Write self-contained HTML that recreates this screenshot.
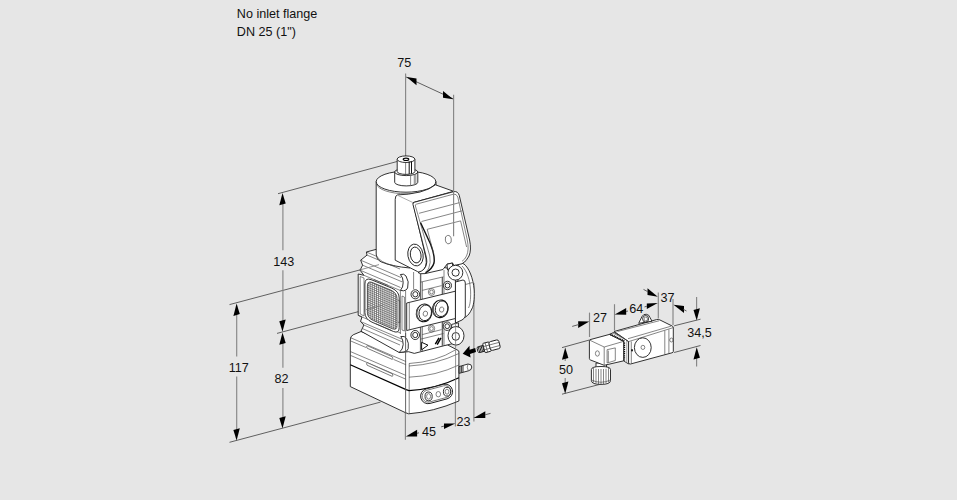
<!DOCTYPE html>
<html><head><meta charset="utf-8"><title>drawing</title>
<style>
html,body{margin:0;padding:0;background:#e6e6e6;}
body{width:957px;height:500px;overflow:hidden;}
svg{display:block;}
text{font-family:"Liberation Sans",sans-serif;font-size:12.6px;fill:#111;}
.d{stroke:#868686;stroke-width:1.15;fill:none;}
.di{stroke:#606060;stroke-width:1;fill:none;}
.d2{stroke:#777;stroke-width:0.8;fill:none;}
.d3{stroke:#555;stroke-width:0.9;fill:none;}
.a{fill:#000;stroke:none;}
.o{stroke:#1c1c1c;stroke-width:0.9;fill:#fff;stroke-linejoin:round;}
.t{stroke:#444;stroke-width:0.65;fill:none;stroke-linejoin:round;}
</style></head>
<body>
<svg width="957" height="500" viewBox="0 0 957 500">
<rect width="957" height="500" fill="#e6e6e6"/>
<g id="dims-back">
<line class="d" x1="405.6" y1="73.5" x2="405.6" y2="157"/>
<line class="di" x1="406" y1="77" x2="453.5" y2="99"/>
<polygon class="a" points="406.6,77.0 416.5,78.4 416.5,85.2"/>
<polygon class="a" points="453.2,99.2 443.0,90.9 443.0,97.7"/>
<line class="di" x1="278" y1="193.7" x2="397.5" y2="161.4"/>
<line class="di" x1="229.5" y1="304.6" x2="360" y2="269.9"/>
<line class="di" x1="277" y1="333.4" x2="366" y2="309.6"/>
<line class="di" x1="229.5" y1="442.3" x2="380.5" y2="402.1"/>
<line class="d" x1="282.9" y1="200" x2="282.9" y2="250.3"/>
<line class="d" x1="282.9" y1="270.3" x2="282.9" y2="325"/>
<line class="d" x1="282.9" y1="340" x2="282.9" y2="367.8"/>
<line class="d" x1="282.9" y1="387.9" x2="282.9" y2="420"/>
<polygon class="a" points="282.5,193.0 279.3,205.3 285.7,203.5"/>
<polygon class="a" points="282.5,331.8 279.3,321.3 285.7,319.5"/>
<polygon class="a" points="282.5,332.4 279.3,344.7 285.7,342.9"/>
<polygon class="a" points="282.5,428.6 279.3,418.1 285.7,416.3"/>
<line class="d" x1="236.7" y1="310" x2="236.7" y2="356.5"/>
<line class="d" x1="236.7" y1="376.6" x2="236.7" y2="433"/>
<polygon class="a" points="236.6,303.6 233.4,315.9 239.8,314.1"/>
<polygon class="a" points="236.6,440.6 233.4,430.1 239.8,428.3"/>
<line class="d" x1="405.4" y1="412" x2="405.4" y2="439.7"/>
<line class="d" x1="455.4" y1="402" x2="455.4" y2="426.6"/>
<line class="d" x1="473.9" y1="283" x2="473.9" y2="421.4"/>
<polygon class="a" points="405.8,436.6 417.1,429.7 417.1,436.5"/>
<line class="di" x1="417" y1="433.3" x2="419" y2="432.8"/>
<polygon class="a" points="455.3,423.4 444.0,423.5 444.0,429.1"/>
<line class="di" x1="441.2" y1="426.8" x2="444" y2="426.1"/>
<polygon class="a" points="473.5,418.0 485.3,411.2 485.3,418.0"/>
<line class="di" x1="485" y1="414.8" x2="490.5" y2="413.4"/>
</g>
<g id="body">
<path class="o" d="M458,262 L464,264 C469,268 473.2,278 474.2,290 C474.6,300 473.5,306 471.8,309 C470,313 468,315.5 465.5,317 L458,321 Z"/>
<path class="t" d="M462,266 C467,271 470,280 470.6,291 C470.8,300 470,305 468.5,308"/>
<path class="t" d="M465.5,284.5 L472.5,282.5"/>
<path class="o" d="M455.4,282 L463,280 Q465.3,280 465.3,283 L465.3,316 Q465.3,318 462,320 L455.4,323 Z"/>
<path class="o" d="M350.3,340 Q350.3,336 353.2,334.8 L361,331.5 L406,350 L447.2,344.7 L458,350.4 Q458.9,350.6 458.9,352 L458.9,401 Q433,412 408.6,413.8 L405.5,412.7 L350.3,386.6 Z"/>
<path class="t" d="M350.3,337.6 L406.1,361.6 M350.3,351.5 L406.1,375.5" />
<path class="t" d="M350.3,340.8 L366,347.5 M393.5,359.4 L406.1,364.8 M350.3,355.3 L406.1,379.3" stroke="#888"/>
<path class="t" d="M409.2,363.5 L409.2,413.8"/>
<path d="M350.3,364.8 L406.1,389.6 L409,390.6 Q436,389 458.9,377.8" stroke="#000" stroke-width="1.15" fill="none"/>
<path class="t" d="M409,363.5 Q436,362 455.4,349.9 M409,377.2 Q436,376 458.9,365 M409,366 Q436,364.5 458.9,353.5"/>
<path d="M367.1,345.6 L392.3,356.8 Q393.4,358.3 392.3,359.4 L367.1,348.2 Q366,346.6 367.1,345.6 Z M367.1,362.6 L392.3,373.8 Q393.4,375.3 392.3,376.4 L367.1,365.2 Q366,363.6 367.1,362.6 Z" fill="#fff" stroke="#444" stroke-width="0.7"/>
<g transform="rotate(-15 436.6 393.9)"><rect class="o" x="420.3" y="386.4" width="32.6" height="15" rx="7.5" stroke-width="1.2"/><rect class="t" x="421.9" y="387.9" width="29.4" height="12" rx="6"/></g>
<ellipse class="o" cx="428.6" cy="396.4" rx="3.6" ry="4.4"/><ellipse class="t" cx="428.6" cy="396.4" rx="2" ry="2.8" stroke="#000"/>
<ellipse class="t" cx="438.3" cy="394.2" rx="2.3" ry="2.7"/>
<ellipse class="o" cx="447" cy="391.7" rx="3.6" ry="4.4" stroke-width="1.5"/><ellipse class="t" cx="447" cy="391.7" rx="1.9" ry="2.5" fill="#aaa" stroke="#000"/>
<path class="o" d="M459,366.6 L468,364 Q471.8,364 471.8,367 Q471.8,370 468.5,370.8 L459,373.4 Z"/>
<path d="M460,366.4 L460,373 M461.6,366 L461.6,372.6 M463,365.6 L463,372.2" stroke="#222" stroke-width="0.9" fill="none"/>
<path class="t" d="M468,364.2 Q466.3,367 468.3,370.7"/>
<path class="o" d="M366.4,252 L376,249.4 L420,262 L455.4,270 L455.4,343 L447.2,344.9 L414.3,353.4 L408.5,351.7 L399.2,352.5 L361,331.2 L363.9,325 L360.5,321.5 L362,317 L358.2,315.3 L358.2,274 L363.9,275.3 L360.1,270.2 L362.6,265.2 L360.7,260.2 L367,255.1 Z"/>
<path class="t" d="M366.4,252 L377,256.5 M367,255.1 L400,269 M360.7,260.2 L401,277.5 M362.6,265.2 L402.5,282 M360.1,270.2 L400.5,287.5 M363.9,275.3 L400.4,290.5"/>
<path class="o" d="M400.4,274.5 Q404,273.2 406,276 Q409.5,281.5 407.6,288 Q406.6,290.6 403.5,290.8 L400.4,290.4 Q403.2,287.5 403.2,282.5 Q403.2,277.5 400.4,274.5 Z"/>
<path class="t" d="M358.2,315.3 L362,317 M362,317 L400.5,333 M360.5,321.5 L401.5,339 M363.9,325 L402.5,342 M362.3,328.5 L400,345 "/>
<path class="o" d="M400.8,336.5 Q404.6,335.6 406.6,338.5 Q409.2,343 408.2,348.6 Q407.4,351.6 404,351.9 L399.2,352.5 Q403,349.5 403.2,344.5 Q403.2,339.5 400.8,336.5 Z"/>
<path class="t" d="M360.2,276.5 L360.2,314 L364,316 L364,278 Z"/>
<path class="t" d="M400.4,290.5 L400.4,334 M405.6,291 L405.6,337"/>
<path class="t" d="M402,296 L402,330 L404.4,331 L404.4,297 Z"/>
<path class="o" d="M364.9,284 Q364.9,277.4 371,279.6 L392,288.2 Q399.2,291.5 399.2,298 L399.2,327.5 Q399.2,333.8 393.5,331.5 L372,322.2 Q364.9,319 364.9,312.5 Z" stroke-width="0.9" stroke="#222"/>
<clipPath id="mc"><path d="M367.4,286 Q367.4,280.6 372,282.4 L391,290.2 Q397,293 397,298.8 L397,325.5 Q397,330.6 392.5,328.8 L373.5,320.6 Q367.4,318 367.4,312.5 Z"/></clipPath>
<path d="M367.4,286 Q367.4,280.6 372,282.4 L391,290.2 Q397,293 397,298.8 L397,325.5 Q397,330.6 392.5,328.8 L373.5,320.6 Q367.4,318 367.4,312.5 Z" fill="#fff" stroke="none"/>
<path clip-path="url(#mc)" d="M366.00,276 L366.00,334 M368.10,276 L368.10,334 M370.20,276 L370.20,334 M372.30,276 L372.30,334 M374.40,276 L374.40,334 M376.50,276 L376.50,334 M378.60,276 L378.60,334 M380.70,276 L380.70,334 M382.80,276 L382.80,334 M384.90,276 L384.90,334 M387.00,276 L387.00,334 M389.10,276 L389.10,334 M391.20,276 L391.20,334 M393.30,276 L393.30,334 M395.40,276 L395.40,334 M397.50,276 L397.50,334 M364,250.00 L400,265.12 M364,252.10 L400,267.22 M364,254.20 L400,269.32 M364,256.30 L400,271.42 M364,258.40 L400,273.52 M364,260.50 L400,275.62 M364,262.60 L400,277.72 M364,264.70 L400,279.82 M364,266.80 L400,281.92 M364,268.90 L400,284.02 M364,271.00 L400,286.12 M364,273.10 L400,288.22 M364,275.20 L400,290.32 M364,277.30 L400,292.42 M364,279.40 L400,294.52 M364,281.50 L400,296.62 M364,283.60 L400,298.72 M364,285.70 L400,300.82 M364,287.80 L400,302.92 M364,289.90 L400,305.02 M364,292.00 L400,307.12 M364,294.10 L400,309.22 M364,296.20 L400,311.32 M364,298.30 L400,313.42 M364,300.40 L400,315.52 M364,302.50 L400,317.62 M364,304.60 L400,319.72 M364,306.70 L400,321.82 M364,308.80 L400,323.92 M364,310.90 L400,326.02 M364,313.00 L400,328.12 M364,315.10 L400,330.22 M364,317.20 L400,332.32 M364,319.30 L400,334.42 M364,321.40 L400,336.52 M364,323.50 L400,338.62 M364,325.60 L400,340.72 M364,327.70 L400,342.82 M364,329.80 L400,344.92 M364,331.90 L400,347.02 M364,334.00 L400,349.12 M364,336.10 L400,351.22 M364,338.20 L400,353.32" stroke="#5c5c5c" stroke-width="0.7" fill="none"/>
<path d="M367.4,286 Q367.4,280.6 372,282.4 L391,290.2 Q397,293 397,298.8 L397,325.5 Q397,330.6 392.5,328.8 L373.5,320.6 Q367.4,318 367.4,312.5 Z" fill="none" stroke="#333" stroke-width="0.8"/>
<path class="t" d="M374,279.6 L388,285.4 M376,323.8 L391,330.2 M397.8,300 L399.8,300.8 L399.8,322.8 L397.8,322" stroke="#555"/>
<path d="M366,309.6 L383,305.1" stroke="#777" stroke-width="0.8" fill="none"/>
<path class="t" d="M413.6,272 L413.6,289"/>
<path d="M420.6,271 L420.6,299.5 M442.4,277 L442.4,294.2" stroke="#666" stroke-width="1.4" fill="none"/>
<path class="t" d="M422.4,281.8 L422.4,299 M444,270 L444,293.8"/>
<path d="M420.6,327 L420.6,351.8 M442.4,321.8 L442.4,346.2" stroke="#666" stroke-width="1.4" fill="none"/>
<path class="t" d="M422.4,326.6 L422.4,351.4 M444,321.2 L444,345.8"/>
<path class="t" d="M420.4,282.2 L443.5,276.8 M422.2,290.4 L441.6,285.6"/>
<path class="t" d="M422.2,334.6 L441.6,329.6 M420.4,339.2 L443.5,333.5"/>
<path class="o" d="M406.7,303 L455.4,291.2 L455.4,318.5 L406.7,330.5 Z"/>
<path class="t" d="M409.3,302.5 L409.3,329.8"/>
<ellipse class="o" cx="415.3" cy="294.3" rx="4.3" ry="4.56" stroke-width="1.5" stroke="#2a2a2a"/><ellipse class="o" cx="415.3" cy="294.3" rx="2.5" ry="2.65" stroke="#222" stroke-width="0.9"/>
<ellipse class="o" cx="447.5" cy="285.5" rx="4.0" ry="4.24" stroke-width="1.5" stroke="#2a2a2a"/><ellipse class="o" cx="447.5" cy="285.5" rx="2.3" ry="2.44" stroke="#222" stroke-width="0.9"/>
<ellipse class="o" cx="415.2" cy="335" rx="4.3" ry="4.56" stroke-width="1.5" stroke="#2a2a2a"/><ellipse class="o" cx="415.2" cy="335" rx="2.5" ry="2.65" stroke="#222" stroke-width="0.9"/>
<ellipse class="o" cx="447.2" cy="326.2" rx="4.0" ry="4.24" stroke-width="1.5" stroke="#2a2a2a"/><ellipse class="o" cx="447.2" cy="326.2" rx="2.3" ry="2.44" stroke="#222" stroke-width="0.9"/>
<ellipse class="t" cx="431.5" cy="292" rx="3.2" ry="3.5"/><ellipse class="t" cx="431.5" cy="292" rx="1.8" ry="2" stroke="#666"/>
<ellipse class="t" cx="431.5" cy="328.6" rx="3.2" ry="3.5"/><ellipse class="t" cx="431.5" cy="328.6" rx="1.8" ry="2" stroke="#666"/>
<g transform="rotate(12 424.1 312.9)">
<ellipse cx="424.1" cy="312.9" rx="7.7" ry="8.9" fill="#fff" stroke="#111" stroke-width="1.1"/>
<path d="M417.20000000000005,309.9 A7.2,8.4 0 0 0 420.6,320.5" stroke="#555" stroke-width="1.6" fill="none"/>
<ellipse class="o" cx="425.20000000000005" cy="312.59999999999997" rx="6.2" ry="7.9" stroke-width="0.9"/>
<ellipse class="t" cx="425.5" cy="313.4" rx="2.2" ry="2.6" stroke="#222"/>
</g>
<g transform="rotate(12 440.4 308.8)">
<ellipse cx="440.4" cy="308.8" rx="7.7" ry="8.9" fill="#fff" stroke="#111" stroke-width="1.1"/>
<path d="M433.5,305.8 A7.2,8.4 0 0 0 436.9,316.40000000000003" stroke="#555" stroke-width="1.6" fill="none"/>
<ellipse class="o" cx="441.5" cy="308.5" rx="6.2" ry="7.9" stroke-width="0.9"/>
<ellipse class="t" cx="441.79999999999995" cy="309.3" rx="2.2" ry="2.6" stroke="#222"/>
</g>
<path d="M421.6,342.3 L428,345.2 L421.6,349.8 Z" stroke-width="1" stroke="#111" fill="#fff" stroke-linejoin="round"/>
<path d="M435.3,344.1 L439,337.8 M437.2,344.7 L441,337.8" stroke="#000" stroke-width="1.4" fill="none"/>
<path class="o" d="M376.2,181.5 L376.2,254 Q376.5,259.5 381,261.8 Q392,266.5 410,268 L436,240 L436,181.5 Z"/>
<path class="t" d="M376.2,255 Q379,262.5 395,266"/>
<ellipse class="o" cx="406" cy="181.7" rx="29.8" ry="10.5"/>
<path class="t" d="M376.5,183.9 A29.6,10.5 0 0 0 435.6,183.9"/>
<path class="o" d="M394.7,172 L394.7,182.3 A11.5,3.6 0 0 0 417.8,182.3 L417.8,172 Z"/>
<ellipse class="o" cx="406.2" cy="172" rx="11.55" ry="3.6"/>
<path class="t" d="M410.6,185.4 L410.6,175.4 M415.8,183.8 L415.8,174.2" stroke="#111"/>
<path class="t" d="M414.3,184.5 L414.3,174.8" stroke="#666"/>
<path class="o" d="M397.2,159.3 L397.2,171.6 A8.85,2.8 0 0 0 414.9,171.6 L414.9,159.3 Z"/>
<ellipse class="o" cx="406" cy="159.2" rx="8.85" ry="3.3"/>
<ellipse cx="406" cy="159.3" rx="2.8" ry="1.2" fill="#fff" stroke="#000" stroke-width="1.1"/>
<path class="t" d="M405.6,162.5 L405.6,174.5" stroke="#555"/>
<path d="M409.2,161.8 L409.2,174 M411.5,161.3 L411.5,173.6" stroke="#111" stroke-width="1" fill="none"/>
<path class="t" d="M408.3,159.8 L409.2,161.8 L411.5,161.3" stroke="#111"/>
<path class="o" d="M395.2,199.5 Q395.2,195.2 397.6,194.9 Q408,194.8 420,192 Q430,189.4 435.4,184.8 L453.6,191.3 L413,202.6 L426,258 Q427.5,268 421,271.8 Q418.5,272.8 417.4,271.5 L395.2,260.2 Z"/>
<path d="M398.2,195.6 L412.6,202.4" stroke="#888" stroke-width="0.7" fill="none"/>
<path class="o" d="M413,204.6 Q412.4,202.9 414.6,202.2 L454,191.6 Q457.8,191 459.3,195.5 L469.6,240 Q471.6,250 469,256 Q466.5,261.5 462,263.8 L454,265.5 L452.5,263 L447,264.2 L443,269.5 L425,273.6 Q419.5,274.4 418,272.5 Q426.5,270 426.8,262 Q426.8,259 426,256 Z" stroke-width="1.1"/>
<path class="t" d="M415.4,206 Q414.8,204.6 416.6,204.1 L453.4,194.2 Q456.6,193.6 457.8,197 L467.3,240 Q469.3,250 466.5,256 Q465,259.5 462,261.3" stroke="#111"/>
<path class="t" d="M415.4,206 L429.8,256 Q431,263 428.8,268 Q427.8,270.3 425.5,272.2" stroke="#111" stroke-width="1.05"/>
<path d="M420.5,222.5 L430.5,244 Q435.2,256 434,263 Q432.5,268.5 425.5,273" stroke="#111" stroke-width="1.4" fill="none"/>
<path class="t" d="M419,213.3 L459.3,202.7 M421.5,221.5 L461.8,210.9" stroke="#111" stroke-width="0.85"/>
<path class="t" d="M433.8,254 L427.2,229.3 L460.6,220.9 L466.6,247" stroke="#111" stroke-width="0.85"/>
<ellipse class="t" cx="448.3" cy="239.6" rx="3" ry="4.2" transform="rotate(-10 448.3 239.6)" stroke="#000"/>
<ellipse class="o" cx="415.5" cy="255" rx="7.6" ry="11" transform="rotate(-10 415.5 255)" stroke-width="1.4"/>
<ellipse class="o" cx="415.7" cy="255" rx="5.3" ry="8" transform="rotate(-10 415.7 255)" stroke-width="0.9"/>
<path class="o" d="M447,264.2 L452.5,263 L452.5,266 L447.5,270 Z" stroke-width="0.8"/>
<circle class="o" cx="455.4" cy="272.7" r="7.4" stroke-width="1.5"/><circle class="o" cx="455.6" cy="272.6" r="3.6"/>
<path class="o" d="M451.7,328 L451.7,324.4 L458.4,322.8 L458.4,328 Z" stroke-width="0.8"/>
<ellipse class="o" cx="456" cy="335.8" rx="8" ry="9.3" stroke-width="1.3"/><ellipse class="o" cx="455.8" cy="336.4" rx="3.7" ry="3.9"/>
<path d="M462.7,353.8 L469.5,345.8 L469.6,349.7 L475.2,348 L476,352 L470,354 L470.6,357.6 Z" fill="#000"/>
<g transform="translate(0 0.6) rotate(-15 488 346)"><rect class="o" x="477" y="343.6" width="8" height="6" rx="1.5"/><rect class="o" x="483.6" y="341.6" width="6.5" height="9.6" rx="0.8"/><rect class="o" x="489.6" y="341.8" width="10.2" height="9" rx="2"/><path d="M478.5,343.6 L478.5,349.6 M480,343.6 L480,349.6 M481.5,343.6 L481.5,349.6 M483,343.6 L483,349.6" stroke="#222" stroke-width="0.9" fill="none"/><path class="t" d="M483.6,344.8 L490.1,344.8 M483.6,348.2 L490.1,348.2 M489.6,344.8 L499.8,344.8 M489.6,348 L499.8,348 M486.2,341.6 L486.2,351.2"/></g>
</g>
<g id="dims-front">
<line class="d" x1="453.6" y1="94.8" x2="453.6" y2="236.2"/>
<path d="M359,270.2 L379,264.6" stroke="#777" stroke-width="0.8" fill="none"/>
<line class="d2" x1="455.6" y1="323" x2="455.6" y2="402"/>
<line class="d3" x1="405.6" y1="333" x2="405.6" y2="413"/>
</g>
<g id="small">
<line class="d" x1="589.5" y1="312.6" x2="589.5" y2="337"/>
<line class="d" x1="614.5" y1="304.2" x2="614.5" y2="330.5"/>
<line class="d" x1="658.3" y1="292.5" x2="658.3" y2="318.5"/>
<line class="d" x1="673" y1="299" x2="673" y2="325"/>
<line class="di" x1="562" y1="347.6" x2="589.4" y2="340"/>
<line class="di" x1="562" y1="394.2" x2="600.5" y2="384.2"/>
<line class="di" x1="674.1" y1="325.8" x2="700.5" y2="319.2"/>
<line class="di" x1="674.1" y1="352.5" x2="700.5" y2="345.5"/>
<polygon class="a" points="589.3,321.6 578.2,321.2 578.2,328.0"/>
<line class="di" x1="572.2" y1="326.4" x2="578.5" y2="324.6"/>
<polygon class="a" points="614.7,314.6 626.2,308.0 626.2,314.8"/>
<polygon class="a" points="657.8,303.0 646.8,303.4 646.8,309.0"/>
<line class="di" x1="626" y1="311.5" x2="628" y2="311"/>
<line class="di" x1="644.5" y1="306.9" x2="647" y2="306.2"/>
<polygon class="a" points="657.8,296.8 647.5,288.2 647.5,295.0"/>
<line class="di" x1="643.5" y1="289.4" x2="648" y2="291.8"/>
<polygon class="a" points="673.5,304.8 684.0,306.0 684.0,313.0"/>
<line class="di" x1="683.5" y1="309.4" x2="686.5" y2="311"/>
<line class="d" x1="696.6" y1="297" x2="696.6" y2="312"/>
<polygon class="a" points="696.7,320.5 693.5,310.0 699.9,308.2"/>
<line class="d" x1="696.6" y1="355" x2="696.6" y2="366.6"/>
<polygon class="a" points="696.7,347.2 693.5,359.5 699.9,357.7"/>
<line class="d" x1="565.2" y1="355" x2="565.2" y2="361"/>
<polygon class="a" points="565.2,347.4 562.0,359.7 568.4,357.9"/>
<line class="d" x1="565.2" y1="377.9" x2="565.2" y2="386"/>
<polygon class="a" points="565.2,393.8 562.0,383.3 568.4,381.5"/>
<path class="o" d="M596,363 L596,368 L606.5,368 L606.5,363 Z"/>
<path class="o" d="M591.4,369.5 Q591.4,366.5 601,366.5 Q610.5,366.5 610.5,369.5 L610.5,380.5 Q610.5,384.4 601,384.4 Q591.4,384.4 591.4,380.5 Z" stroke-width="1.2"/>
<path class="t" d="M593.5,368 L593.5,382.5 M596,368.8 L596,383.5 M598.5,369 L598.5,384 M601,369 L601,384.2 M603.5,369 L603.5,384 M606,368.8 L606,383.5 M608.5,368 L608.5,382.5" stroke="#555"/>
<path class="t" d="M591.4,380 Q601,384.5 610.5,380"/>
<path class="o" d="M589.4,340.6 Q589.4,339.6 591,339.4 L609.5,334.4 L623.8,341.3 L623.8,360.8 L604.2,365.3 L590.5,360 Q589.4,359.6 589.4,358.5 Z"/>
<path class="t" d="M590,340.3 L604.2,347 L623.8,341.3 M604.2,347 L604.2,365.3"/>
<ellipse class="t" cx="597.4" cy="353.5" rx="2" ry="2.7"/>
<path class="t" d="M607.1,349.7 L615.3,347.9 L615.3,360.5 L607.1,363 Z M608.3,350.6 L608.3,362.5"/>
<path d="M609.5,334.4 L613.8,332.4 L628.6,340.5 L628.6,364 L623.8,361 L623.8,341.3 Z" fill="#fff" stroke="#111" stroke-width="0.8"/>
<path d="M610.4,334.2 L624.6,341.2" stroke="#111" stroke-width="1.6" stroke-dasharray="1.1 0.7" fill="none"/>
<path d="M612.6,333 L626.8,340.2 L626.8,363" stroke="#555" stroke-width="0.6" fill="none"/>
<path d="M624.5,342.6 L624.5,361.2" stroke="#111" stroke-width="1.3" stroke-dasharray="1.2 0.9" fill="none"/>
<path class="o" d="M614.1,331.5 L656.5,319.6 Q658.5,319.2 660,320 L672.5,326.2 Q673.3,326.8 673.3,328 L673.3,351.5 Q673.3,352.5 672,352.8 L630.5,364 Q628.6,364.4 628.6,362.5 L628.6,341.6 Z"/>
<path class="t" d="M614.1,331.5 L628.6,341.6 L673.3,327.6 M617.5,331.5 L659,320.8 M628,338.7 L671,326.2 M631.3,341.5 L631.3,363.3"/>
<path class="t" d="M664.8,330.6 L664.8,354.5 M668.9,329.4 L668.9,353.4"/>
<ellipse class="t" cx="671.4" cy="340" rx="1.7" ry="2" stroke="#000"/>
<ellipse class="o" cx="642.8" cy="347.6" rx="8.4" ry="9.8"/>
<ellipse class="t" cx="642.9" cy="347.4" rx="1.9" ry="2.1" stroke="#000"/>
<rect x="631" y="349.3" width="2" height="2" fill="#222"/>
<path class="o" d="M638.7,323.3 L642,316.5 A4.4,4.6 0 0 1 650,317.5 L652,321.2 Z"/>
<ellipse class="o" cx="645.6" cy="318.8" rx="3" ry="3.3"/><ellipse class="t" cx="645.8" cy="319" rx="1.7" ry="2"/>
</g>
<g id="txt">
<text x="236.8" y="17.6" text-anchor="start">No inlet flange</text>
<text x="236.8" y="36" text-anchor="start">DN 25 (1")</text>
<text x="404.3" y="66.7" text-anchor="middle">75</text>
<text x="283.7" y="265.7" text-anchor="middle">143</text>
<text x="238.8" y="371.7" text-anchor="middle">117</text>
<text x="281.5" y="383" text-anchor="middle">82</text>
<text x="428.9" y="435.7" text-anchor="middle">45</text>
<text x="463.5" y="425.6" text-anchor="middle">23</text>
<text x="600" y="322" text-anchor="middle">27</text>
<text x="636.3" y="312.6" text-anchor="middle">64</text>
<text x="667.5" y="301.7" text-anchor="middle">37</text>
<text x="699.5" y="337" text-anchor="middle">34,5</text>
<text x="566" y="373.8" text-anchor="middle">50</text>
</g>
</svg>
</body></html>
